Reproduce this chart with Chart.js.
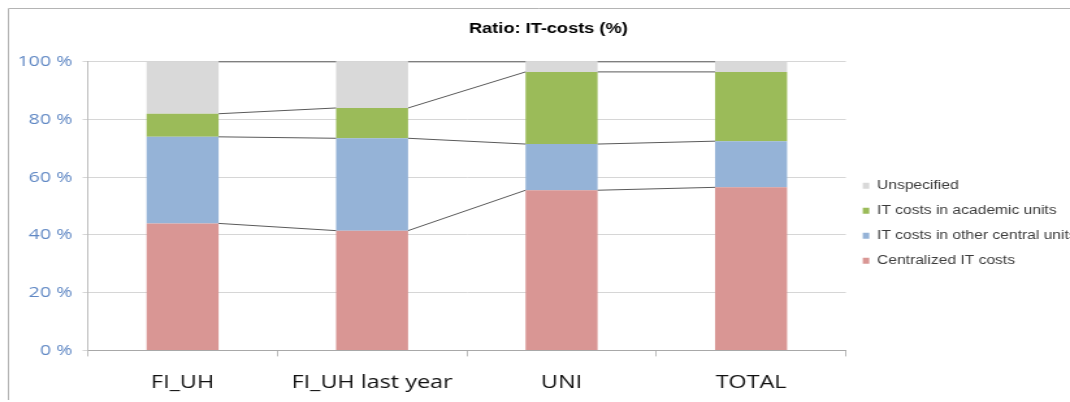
<!DOCTYPE html>
<html lang="en">
<head>
    <meta charset="UTF-8">
    <title>Ratio: IT-costs (%)</title>
    <style>
        body { margin: 0; background: #fff; overflow: hidden; }
        #myChart { display: block; }
    </style>
</head>
<body>
<!-- the original screenshot is stretched sideways (~1.3x), so draw narrower and scale up -->
<canvas id="myChart" width="823" height="402" style="width:1070px;height:402px"></canvas>

<script src="https://cdn.jsdelivr.net/npm/chart.js"></script>

<script>

    const labels = ['FI_UH', 'FI_UH last year', 'UNI', 'TOTAL'];

    const centralized = [44, 41.5, 55.5, 56.5];
    const otherCentral = [30, 32, 16, 16];
    const academic = [8, 10.5, 25, 24];
    const unspecified = [18, 16, 3.5, 3.5];

    const ctx = document.getElementById('myChart').getContext('2d');

    // Excel-style "series lines" joining the stacked tops of neighbouring bars
    const seriesLines = {
        id: 'seriesLines',
        afterDatasetsDraw(chart) {
            const c = chart.ctx;
            c.save();
            c.strokeStyle = '#5a5a5a';
            c.lineWidth = 1;
            chart.data.datasets.forEach((ds, di) => {
                const meta = chart.getDatasetMeta(di);
                for (let i = 0; i < meta.data.length - 1; i++) {
                    const a = meta.data[i];
                    const b = meta.data[i + 1];
                    c.beginPath();
                    c.moveTo(a.x + a.width / 2, a.y);
                    c.lineTo(b.x - b.width / 2, b.y);
                    c.stroke();
                }
            });
            c.restore();
        }
    };

    const frame = {
        id: 'frame',
        beforeDraw(chart) {
            const c = chart.ctx;
            c.save();
            c.strokeStyle = '#b4b4b4';
            c.lineWidth = 1;
            c.beginPath();
            c.moveTo(6.5, 400);
            c.lineTo(6.5, 8.5);
            c.lineTo(chart.width, 8.5);
            c.stroke();
            c.restore();
        }
    };

    const data = {
        labels: labels,
        datasets: [
            { label: 'Centralized IT costs', data: centralized, backgroundColor: '#d99694' },
            { label: 'IT costs in other central units', data: otherCentral, backgroundColor: '#95b3d7' },
            { label: 'IT costs in academic units', data: academic, backgroundColor: '#9bbb59' },
            { label: 'Unspecified', data: unspecified, backgroundColor: '#d9d9d9' }
        ]
    };

    const config = {
        type: 'bar',
        data: data,
        plugins: [frame, seriesLines],
        options: {
            responsive: false,
            animation: false,
            datasets: {
                bar: { barPercentage: 0.76, categoryPercentage: 0.5 }
            },
            layout: { padding: { top: 14, left: 5.5, right: -15, bottom: -8 } },
            plugins: {
                tooltip: false,
                title: {
                    display: true,
                    text: 'Ratio: IT-costs (%)',
                    color: '#000',
                    font: { family: 'Liberation Sans', size: 14, weight: 'bold' },
                    padding: { top: 7, bottom: 24 }
                },
                legend: {
                    position: 'right',
                    reverse: true,
                    title: { display: true, text: '', padding: 4, font: { size: 12 } },
                    labels: {
                        boxWidth: 5,
                        boxHeight: 6,
                        padding: 13,
                        color: '#3a3a3a',
                        font: { family: 'Liberation Sans', size: 12 }
                    }
                }
            },
            scales: {
                x: {
                    stacked: true,
                    grid: { drawOnChartArea: false, drawTicks: true, tickLength: 6, color: '#bcbcbc' },
                    border: { display: true, color: '#a8a8a8' },
                    ticks: {
                        color: '#111',
                        font: { family: 'Open Sans', size: 18 },
                        padding: 16
                    }
                },
                y: {
                    stacked: true,
                    min: 0,
                    max: 100,
                    grid: { color: '#d6d6d6', tickLength: 4 },
                    border: { display: true, color: '#bcbcbc' },
                    ticks: {
                        stepSize: 20,
                        color: '#6088c4',
                        font: { family: 'Open Sans', size: 15 },
                        padding: 8,
                        callback: function(value) {
                            return value + ' %';
                        }
                    }
                }
            }
        }
    };

    const chart = new Chart(ctx, config);

</script>

</body>
</html>
